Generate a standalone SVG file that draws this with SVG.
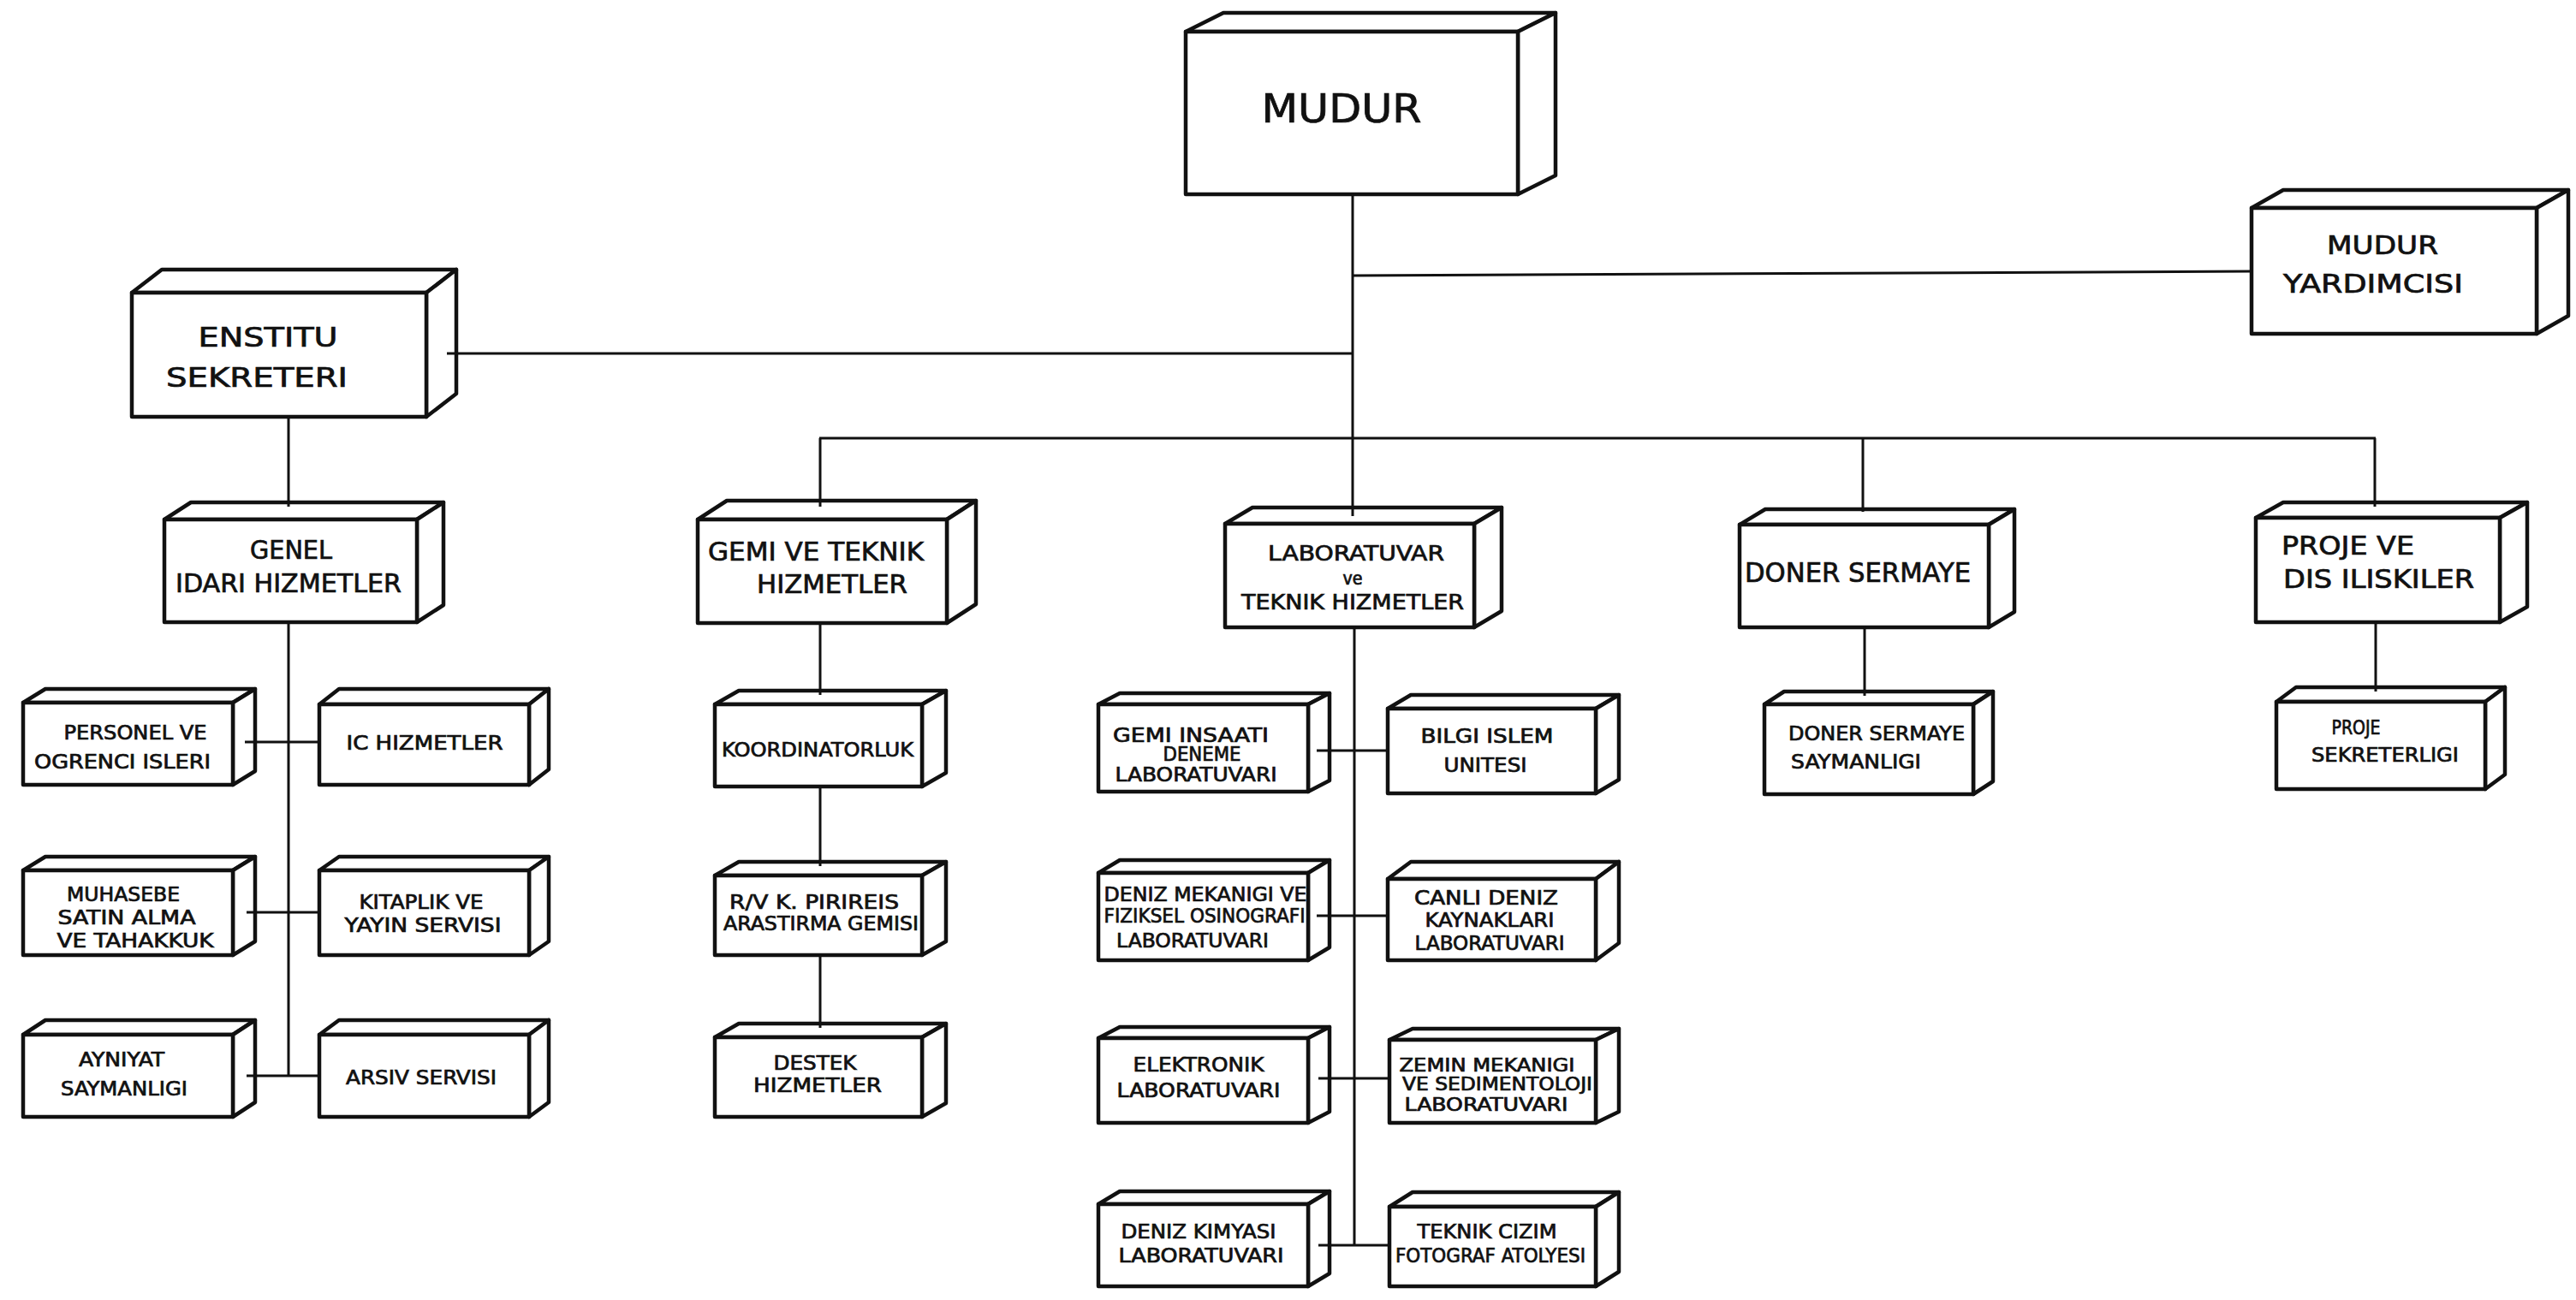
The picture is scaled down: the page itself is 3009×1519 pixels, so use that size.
<svg xmlns="http://www.w3.org/2000/svg" width="3009" height="1519" viewBox="0 0 3009 1519">
<style>
.bx{fill:#fff;stroke:#111;stroke-width:4.5;stroke-linejoin:round}
.ln{fill:none;stroke:#111;stroke-width:3;stroke-linecap:butt}
text{font-family:"DejaVu Sans Condensed","DejaVu Sans","Liberation Sans",sans-serif;fill:#111;stroke:#111;stroke-width:0.7;text-anchor:middle}
.f46{font-size:46px}.f32{font-size:32px}.f30{font-size:31px}.f25{font-size:25px}.f22{font-size:23px}.f20{font-size:21px}
.st{text-anchor:start}
</style>
<rect width="3009" height="1519" fill="#fff"/>

<g id="mudur">
<polygon class="bx" points="1385,37 1429,15 1817,15 1773,37"/>
<polygon class="bx" points="1773,37 1817,15 1817,205 1773,227"/>
<rect class="bx" x="1385" y="37" width="388" height="190"/>
<text class="f46" x="1567" y="143" textLength="187" lengthAdjust="spacingAndGlyphs">MUDUR</text>
</g>

<g id="mudur-yardimcisi">
<polygon class="bx" points="2630,243 2667,222 3000,222 2963,243"/>
<polygon class="bx" points="2963,243 3000,222 3000,369 2963,390"/>
<rect class="bx" x="2630" y="243" width="333" height="147"/>
<text class="f30" x="2783" y="297" textLength="130" lengthAdjust="spacingAndGlyphs">MUDUR</text>
<text class="f30" x="2772" y="342" textLength="210" lengthAdjust="spacingAndGlyphs">YARDIMCISI</text>
</g>

<g id="enstitu-sekreteri">
<polygon class="bx" points="154,342 189,315 533,315 498,342"/>
<polygon class="bx" points="498,342 533,315 533,460 498,487"/>
<rect class="bx" x="154" y="342" width="344" height="145"/>
<text class="f32" x="313" y="405" textLength="163" lengthAdjust="spacingAndGlyphs">ENSTITU</text>
<text class="f32" x="300" y="452" textLength="212" lengthAdjust="spacingAndGlyphs">SEKRETERI</text>
</g>

<g id="genel-idari">
<polygon class="bx" points="192,607 223,587 518,587 487,607"/>
<polygon class="bx" points="487,607 518,587 518,707 487,727"/>
<rect class="bx" x="192" y="607" width="295" height="120"/>
<text class="f30" x="340" y="653" textLength="96" lengthAdjust="spacingAndGlyphs">GENEL</text>
<text class="f30" x="337" y="692" textLength="264" lengthAdjust="spacingAndGlyphs">IDARI HIZMETLER</text>
</g>

<g id="gemi-teknik">
<polygon class="bx" points="815,607 849,585 1140,585 1106,607"/>
<polygon class="bx" points="1106,607 1140,585 1140,706 1106,728"/>
<rect class="bx" x="815" y="607" width="291" height="121"/>
<text class="f30" x="953" y="655" textLength="252" lengthAdjust="spacingAndGlyphs">GEMI VE TEKNIK</text>
<text class="f30" x="972" y="693" textLength="176" lengthAdjust="spacingAndGlyphs">HIZMETLER</text>
</g>

<g id="laboratuvar-teknik">
<polygon class="bx" points="1431,612 1463,593 1754,593 1722,612"/>
<polygon class="bx" points="1722,612 1754,593 1754,714 1722,733"/>
<rect class="bx" x="1431" y="612" width="291" height="121"/>
<text class="f25" x="1584" y="655" textLength="206" lengthAdjust="spacingAndGlyphs">LABORATUVAR</text>
<text class="f20" x="1580" y="683" textLength="23" lengthAdjust="spacingAndGlyphs">ve</text>
<text class="f25" x="1580" y="712" textLength="260" lengthAdjust="spacingAndGlyphs">TEKNIK HIZMETLER</text>
</g>

<g id="doner-sermaye">
<polygon class="bx" points="2032,613 2062,595 2353,595 2323,613"/>
<polygon class="bx" points="2323,613 2353,595 2353,715 2323,733"/>
<rect class="bx" x="2032" y="613" width="291" height="120"/>
<text class="f32" x="2170" y="680" textLength="264" lengthAdjust="spacingAndGlyphs">DONER SERMAYE</text>
</g>

<g id="proje-dis-iliskiler">
<polygon class="bx" points="2635,605 2667,587 2952,587 2920,605"/>
<polygon class="bx" points="2920,605 2952,587 2952,709 2920,727"/>
<rect class="bx" x="2635" y="605" width="285" height="122"/>
<text class="f30 st" x="2665" y="648" textLength="155" lengthAdjust="spacingAndGlyphs">PROJE VE</text>
<text class="f30 st" x="2667" y="687" textLength="223" lengthAdjust="spacingAndGlyphs">DIS ILISKILER</text>
</g>

<g id="personel-ogrenci">
<polygon class="bx" points="27,821 53,805 298,805 272,821"/>
<polygon class="bx" points="272,821 298,805 298,901 272,917"/>
<rect class="bx" x="27" y="821" width="245" height="96"/>
<text class="f22" x="158" y="864" textLength="167" lengthAdjust="spacingAndGlyphs">PERSONEL VE</text>
<text class="f22" x="143" y="898" textLength="206" lengthAdjust="spacingAndGlyphs">OGRENCI ISLERI</text>
</g>

<g id="ic-hizmetler">
<polygon class="bx" points="373,823 396,805 641,805 618,823"/>
<polygon class="bx" points="618,823 641,805 641,899 618,917"/>
<rect class="bx" x="373" y="823" width="245" height="94"/>
<text class="f22" x="496" y="876" textLength="183" lengthAdjust="spacingAndGlyphs">IC HIZMETLER</text>
</g>

<g id="muhasebe">
<polygon class="bx" points="27,1017 53,1001 298,1001 272,1017"/>
<polygon class="bx" points="272,1017 298,1001 298,1100 272,1116"/>
<rect class="bx" x="27" y="1017" width="245" height="99"/>
<text class="f22" x="144" y="1053" textLength="132" lengthAdjust="spacingAndGlyphs">MUHASEBE</text>
<text class="f22" x="148" y="1080" textLength="161" lengthAdjust="spacingAndGlyphs">SATIN ALMA</text>
<text class="f22" x="158" y="1107" textLength="183" lengthAdjust="spacingAndGlyphs">VE TAHAKKUK</text>
</g>

<g id="kitaplik">
<polygon class="bx" points="373,1017 396,1001 641,1001 618,1017"/>
<polygon class="bx" points="618,1017 641,1001 641,1100 618,1116"/>
<rect class="bx" x="373" y="1017" width="245" height="99"/>
<text class="f22" x="492" y="1062" textLength="145" lengthAdjust="spacingAndGlyphs">KITAPLIK VE</text>
<text class="f22" x="494" y="1089" textLength="183" lengthAdjust="spacingAndGlyphs">YAYIN SERVISI</text>
</g>

<g id="ayniyat">
<polygon class="bx" points="27,1209 53,1192 298,1192 272,1209"/>
<polygon class="bx" points="272,1209 298,1192 298,1288 272,1305"/>
<rect class="bx" x="27" y="1209" width="245" height="96"/>
<text class="f22" x="142" y="1246" textLength="100" lengthAdjust="spacingAndGlyphs">AYNIYAT</text>
<text class="f22" x="145" y="1280" textLength="148" lengthAdjust="spacingAndGlyphs">SAYMANLIGI</text>
</g>

<g id="arsiv">
<polygon class="bx" points="373,1209 396,1192 641,1192 618,1209"/>
<polygon class="bx" points="618,1209 641,1192 641,1288 618,1305"/>
<rect class="bx" x="373" y="1209" width="245" height="96"/>
<text class="f22" x="492" y="1267" textLength="176" lengthAdjust="spacingAndGlyphs">ARSIV SERVISI</text>
</g>

<g id="koordinatorluk">
<polygon class="bx" points="835,823 863,807 1105,807 1077,823"/>
<polygon class="bx" points="1077,823 1105,807 1105,903 1077,919"/>
<rect class="bx" x="835" y="823" width="242" height="96"/>
<text class="f22" x="955" y="884" textLength="224" lengthAdjust="spacingAndGlyphs">KOORDINATORLUK</text>
</g>

<g id="arastirma-gemisi">
<polygon class="bx" points="835,1023 863,1007 1105,1007 1077,1023"/>
<polygon class="bx" points="1077,1023 1105,1007 1105,1100 1077,1116"/>
<rect class="bx" x="835" y="1023" width="242" height="93"/>
<text class="f22" x="951" y="1062" textLength="198" lengthAdjust="spacingAndGlyphs">R/V K. PIRIREIS</text>
<text class="f22" x="959" y="1087" textLength="228" lengthAdjust="spacingAndGlyphs">ARASTIRMA GEMISI</text>
</g>

<g id="destek">
<polygon class="bx" points="835,1212 863,1196 1105,1196 1077,1212"/>
<polygon class="bx" points="1077,1212 1105,1196 1105,1289 1077,1305"/>
<rect class="bx" x="835" y="1212" width="242" height="93"/>
<text class="f22" x="952" y="1250" textLength="97" lengthAdjust="spacingAndGlyphs">DESTEK</text>
<text class="f22" x="955" y="1276" textLength="150" lengthAdjust="spacingAndGlyphs">HIZMETLER</text>
</g>

<g id="gemi-insaati-lab">
<polygon class="bx" points="1283,823 1308,810 1553,810 1528,823"/>
<polygon class="bx" points="1528,823 1553,810 1553,912 1528,925"/>
<rect class="bx" x="1283" y="823" width="245" height="102"/>
<text class="f22" x="1391" y="867" textLength="182" lengthAdjust="spacingAndGlyphs">GEMI INSAATI</text>
<text class="f22" x="1404" y="889" textLength="91" lengthAdjust="spacingAndGlyphs">DENEME</text>
<text class="f22" x="1397" y="913" textLength="189" lengthAdjust="spacingAndGlyphs">LABORATUVARI</text>
</g>

<g id="bilgi-islem">
<polygon class="bx" points="1621,828 1648,812 1891,812 1864,828"/>
<polygon class="bx" points="1864,828 1891,812 1891,911 1864,927"/>
<rect class="bx" x="1621" y="828" width="243" height="99"/>
<text class="f22" x="1737" y="868" textLength="155" lengthAdjust="spacingAndGlyphs">BILGI ISLEM</text>
<text class="f22" x="1735" y="902" textLength="97" lengthAdjust="spacingAndGlyphs">UNITESI</text>
</g>

<g id="deniz-mekanigi-lab">
<polygon class="bx" points="1283,1020 1308,1005 1553,1005 1528,1020"/>
<polygon class="bx" points="1528,1020 1553,1005 1553,1107 1528,1122"/>
<rect class="bx" x="1283" y="1020" width="245" height="102"/>
<text class="f22" x="1408" y="1053" textLength="237" lengthAdjust="spacingAndGlyphs">DENIZ MEKANIGI VE</text>
<text class="f22" x="1407" y="1078" textLength="235" lengthAdjust="spacingAndGlyphs">FIZIKSEL OSINOGRAFI</text>
<text class="f22" x="1393" y="1107" textLength="178" lengthAdjust="spacingAndGlyphs">LABORATUVARI</text>
</g>

<g id="canli-deniz-lab">
<polygon class="bx" points="1621,1027 1648,1007 1891,1007 1864,1027"/>
<polygon class="bx" points="1864,1027 1891,1007 1891,1102 1864,1122"/>
<rect class="bx" x="1621" y="1027" width="243" height="95"/>
<text class="f22" x="1736" y="1057" textLength="168" lengthAdjust="spacingAndGlyphs">CANLI DENIZ</text>
<text class="f22" x="1740" y="1083" textLength="151" lengthAdjust="spacingAndGlyphs">KAYNAKLARI</text>
<text class="f22" x="1740" y="1110" textLength="175" lengthAdjust="spacingAndGlyphs">LABORATUVARI</text>
</g>

<g id="elektronik-lab">
<polygon class="bx" points="1283,1213 1308,1200 1553,1200 1528,1213"/>
<polygon class="bx" points="1528,1213 1553,1200 1553,1299 1528,1312"/>
<rect class="bx" x="1283" y="1213" width="245" height="99"/>
<text class="f22" x="1400" y="1252" textLength="153" lengthAdjust="spacingAndGlyphs">ELEKTRONIK</text>
<text class="f22" x="1400" y="1282" textLength="191" lengthAdjust="spacingAndGlyphs">LABORATUVARI</text>
</g>

<g id="zemin-mekanigi-lab">
<polygon class="bx" points="1623,1215 1650,1202 1891,1202 1864,1215"/>
<polygon class="bx" points="1864,1215 1891,1202 1891,1299 1864,1312"/>
<rect class="bx" x="1623" y="1215" width="241" height="97"/>
<text class="f20" x="1737" y="1252" textLength="205" lengthAdjust="spacingAndGlyphs">ZEMIN MEKANIGI</text>
<text class="f20" x="1749" y="1274" textLength="222" lengthAdjust="spacingAndGlyphs">VE SEDIMENTOLOJI</text>
<text class="f20" x="1736" y="1298" textLength="191" lengthAdjust="spacingAndGlyphs">LABORATUVARI</text>
</g>

<g id="deniz-kimyasi-lab">
<polygon class="bx" points="1283,1407 1308,1392 1553,1392 1528,1407"/>
<polygon class="bx" points="1528,1407 1553,1392 1553,1488 1528,1503"/>
<rect class="bx" x="1283" y="1407" width="245" height="96"/>
<text class="f22" x="1400" y="1447" textLength="181" lengthAdjust="spacingAndGlyphs">DENIZ KIMYASI</text>
<text class="f22" x="1403" y="1475" textLength="193" lengthAdjust="spacingAndGlyphs">LABORATUVARI</text>
</g>

<g id="teknik-cizim">
<polygon class="bx" points="1623,1410 1650,1393 1891,1393 1864,1410"/>
<polygon class="bx" points="1864,1410 1891,1393 1891,1486 1864,1503"/>
<rect class="bx" x="1623" y="1410" width="241" height="93"/>
<text class="f22" x="1737" y="1447" textLength="163" lengthAdjust="spacingAndGlyphs">TEKNIK CIZIM</text>
<text class="f22" x="1741" y="1475" textLength="222" lengthAdjust="spacingAndGlyphs">FOTOGRAF ATOLYESI</text>
</g>

<g id="doner-sermaye-saymanligi">
<polygon class="bx" points="2061,823 2084,808 2328,808 2305,823"/>
<polygon class="bx" points="2305,823 2328,808 2328,913 2305,928"/>
<rect class="bx" x="2061" y="823" width="244" height="105"/>
<text class="f22" x="2192" y="865" textLength="206" lengthAdjust="spacingAndGlyphs">DONER SERMAYE</text>
<text class="f22" x="2168" y="898" textLength="152" lengthAdjust="spacingAndGlyphs">SAYMANLIGI</text>
</g>

<g id="proje-sekreterligi">
<polygon class="bx" points="2659,820 2682,803 2926,803 2903,820"/>
<polygon class="bx" points="2903,820 2926,803 2926,905 2903,922"/>
<rect class="bx" x="2659" y="820" width="244" height="102"/>
<text class="f22" x="2752" y="858" textLength="57" lengthAdjust="spacingAndGlyphs">PROJE</text>
<text class="f22" x="2786" y="890" textLength="172" lengthAdjust="spacingAndGlyphs">SEKRETERLIGI</text>
</g>

<g id="connectors">
<path class="ln" d="M1580 227 V603"/>
<path class="ln" d="M1580 322 L2630 317"/>
<path class="ln" d="M522 413 H1580"/>
<path class="ln" d="M957 512 H2775"/>
<path class="ln" d="M958 512 V592"/>
<path class="ln" d="M2176 512 V598"/>
<path class="ln" d="M2774 512 V592"/>
<path class="ln" d="M337 487 V592"/>
<path class="ln" d="M337 727 V1257"/>
<path class="ln" d="M286 867 H373"/>
<path class="ln" d="M288 1066 H373"/>
<path class="ln" d="M288 1257 H373"/>
<path class="ln" d="M958 728 V812"/>
<path class="ln" d="M958 919 V1012"/>
<path class="ln" d="M958 1116 V1201"/>
<path class="ln" d="M1582 733 V1455"/>
<path class="ln" d="M1538 877 H1621"/>
<path class="ln" d="M1538 1070 H1621"/>
<path class="ln" d="M1540 1260 H1623"/>
<path class="ln" d="M1540 1455 H1623"/>
<path class="ln" d="M2178 733 V813"/>
<path class="ln" d="M2775 727 V808"/>
</g>
</svg>
